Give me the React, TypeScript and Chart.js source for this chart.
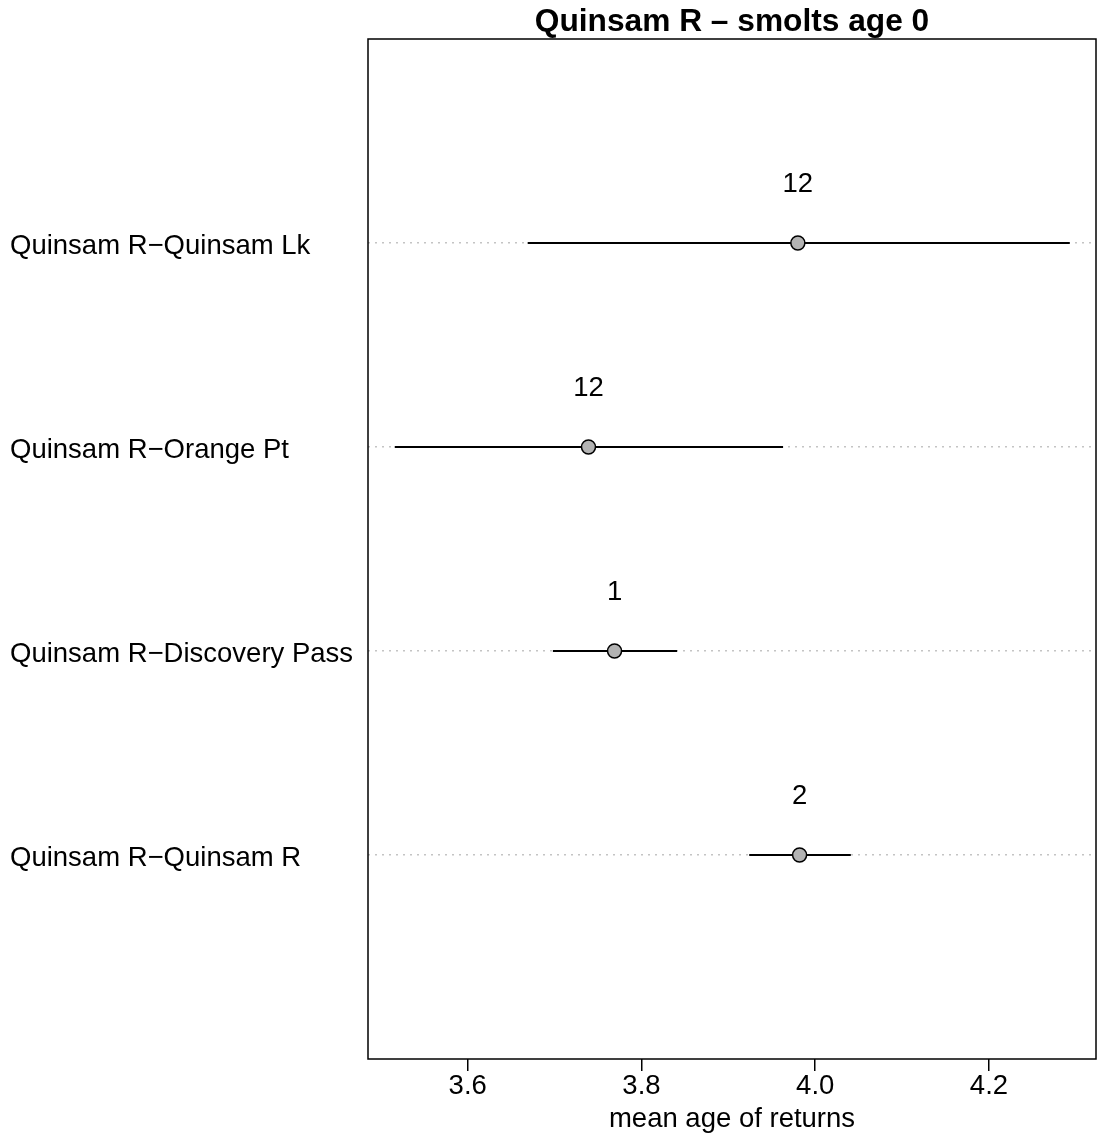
import React, { useEffect, useRef } from "react";
import { Chart, registerables } from "chart.js";

Chart.register(...registerables);

const categories = [
  "Quinsam R\u2212Quinsam Lk",
  "Quinsam R\u2212Orange Pt",
  "Quinsam R\u2212Discovery Pass",
  "Quinsam R\u2212Quinsam R",
];
const means = [3.98, 3.739, 3.769, 3.982];
const lowers = [3.669, 3.516, 3.698, 3.924];
const uppers = [4.293, 3.963, 3.841, 4.041];
const counts = ["12", "12", "1", "2"];
const xTicks = [3.6, 3.8, 4.0, 4.2];
const titleText = "Quinsam R \u2013 smolts age 0";
const xTitle = "mean age of returns";

const FONT = "'Liberation Sans', Arial, Helvetica, sans-serif";

export default function App() {
  const ref = useRef<HTMLCanvasElement | null>(null);

  useEffect(() => {
    if (!ref.current) return;
    const rows = categories.map((_, i) => i + 1);

    const barSets = rows.map((r, i) => ({
      type: "line" as const,
      data: [
        { x: lowers[i], y: r },
        { x: uppers[i], y: r },
      ],
      borderColor: "#000",
      borderWidth: 2,
      pointRadius: 0,
      fill: false,
      order: 2,
    }));

    const pointSet = {
      type: "scatter" as const,
      data: rows.map((r, i) => ({ x: means[i], y: r })),
      pointRadius: 7,
      pointBackgroundColor: "#b3b3b3",
      pointBorderColor: "#000",
      pointBorderWidth: 1.5,
      order: 1,
    };

    const overlay = {
      id: "overlay",
      afterDatasetsDraw(chart: any) {
        const { ctx, chartArea, scales } = chart;
        ctx.save();
        ctx.strokeStyle = "#000";
        ctx.lineWidth = 1.5;
        ctx.strokeRect(
          chartArea.left,
          chartArea.top,
          chartArea.right - chartArea.left,
          chartArea.bottom - chartArea.top
        );
        ctx.fillStyle = "#000";
        ctx.font = `27.5px ${FONT}`;
        ctx.textAlign = "center";
        ctx.textBaseline = "middle";
        rows.forEach((r, i) => {
          const px = scales.x.getPixelForValue(means[i]);
          const py = scales.y.getPixelForValue(r - 0.285);
          ctx.fillText(counts[i], px, py);
        });
        ctx.font = `bold 31.7px ${FONT}`;
        ctx.fillText(titleText, (chartArea.left + chartArea.right) / 2, 22);
        ctx.restore();
      },
    };

    const chart = new Chart(ref.current, {
      type: "scatter",
      data: { datasets: [...barSets, pointSet] as any },
      options: {
        animation: false,
        responsive: false,
        maintainAspectRatio: false,
        layout: { autoPadding: false, padding: { top: 39, right: 5, left: 10, bottom: 0 } },
        plugins: {
          legend: { display: false },
          tooltip: { enabled: false },
          title: { display: false },
        },
        scales: {
          x: {
            type: "linear",
            min: 3.4852,
            max: 4.3232,
            afterBuildTicks: (scale: any) => {
              scale.ticks = xTicks.map((v) => ({ value: v }));
            },
            afterFit: (scale: any) => {
              scale.height = 82;
              scale.paddingLeft = 0;
              scale.paddingRight = 0;
            },
            ticks: {
              color: "#000",
              font: { family: FONT, size: 27.5, lineHeight: 1 },
              padding: 2,
              maxRotation: 0,
              autoSkip: false,
              callback: (v: any) => Number(v).toFixed(1),
            },
            grid: {
              drawOnChartArea: false,
              drawTicks: true,
              tickLength: 12,
              color: "#000",
              lineWidth: 1.5,
            },
            border: { display: false },
            title: {
              display: true,
              text: xTitle,
              color: "#000",
              font: { family: FONT, size: 27.5, lineHeight: 1.2 },
              padding: { top: 0, bottom: 5 },
            },
          },
          y: {
            type: "linear",
            min: 0,
            max: 5,
            reverse: true,
            afterBuildTicks: (scale: any) => {
              scale.ticks = rows.map((v) => ({ value: v }));
            },
            afterFit: (scale: any) => {
              scale.width = 358;
              scale.paddingTop = 0;
              scale.paddingBottom = 0;
            },
            ticks: {
              color: "#000",
              font: { family: FONT, size: 27.5 },
              crossAlign: "far",
              labelOffset: 3,
              autoSkip: false,
              callback: (v: any) => categories[Number(v) - 1] ?? "",
            },
            grid: {
              drawTicks: false,
              color: "#c4c4c4",
              lineWidth: 1.5,
            },
            border: { display: false, dash: [2, 5] },
          },
        },
      },
      plugins: [overlay],
    });

    return () => chart.destroy();
  }, []);

  return (
    <div style={{ position: "absolute", left: 0, top: 0, width: 1101, height: 1141, background: "#fff" }}>
      <canvas ref={ref} width={1101} height={1141} />
    </div>
  );
}
